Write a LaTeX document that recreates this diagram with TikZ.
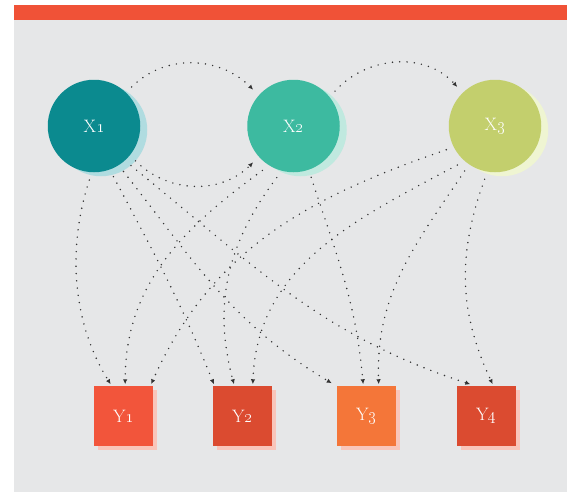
\documentclass[tikz,border=0pt]{standalone}
\usetikzlibrary{arrows.meta,shadows,calc}
\definecolor{barc}{HTML}{F05237}
\definecolor{bgc}{HTML}{E6E7E8}
\definecolor{xonec}{HTML}{0B8A8F}
\definecolor{xones}{HTML}{B0DCE0}
\definecolor{xtwoc}{HTML}{3DBAA0}
\definecolor{xtwos}{HTML}{C0E9DF}
\definecolor{xthreec}{HTML}{C3CF6D}
\definecolor{xthrees}{HTML}{EFF5D2}
\definecolor{yonec}{HTML}{F2553B}
\definecolor{ytwoc}{HTML}{DB4B30}
\definecolor{ythreec}{HTML}{F47639}
\definecolor{yfourc}{HTML}{DB4B30}
\definecolor{ys}{HTML}{F9C5BA}
\definecolor{edgec}{HTML}{333333}
\begin{document}
\begin{tikzpicture}[x=1pt,y=1pt,
  xnode/.style={circle,minimum size=92.5pt,inner sep=0pt,outer sep=8pt,text=white,
    font=\fontsize{18}{20}\selectfont,
    drop shadow={shadow xshift=7pt,shadow yshift=-4pt,fill=#1,opacity=1}},
  ynode/.style={rectangle,minimum size=59.5pt,inner sep=0pt,outer sep=2pt,text=white,
    font=\fontsize{18}{20}\selectfont,
    drop shadow={shadow xshift=4pt,shadow yshift=-4pt,fill=ys,opacity=1}},
  edge/.style={draw=edgec,line width=1.6pt,line cap=round,dash pattern=on 0pt off 7.3pt,
    -{Latex[length=5pt,width=4.5pt]}}]
\useasboundingbox (0,0) rectangle (576,-493);
\fill[bgc] (14,-20) rectangle (567,-492);
\fill[barc] (14,-5) rectangle (567,-20);
\node[xnode=xones,fill=xonec] (X1) at (94,-126) {X\oldstylenums{1}};
\node[xnode=xtwos,fill=xtwoc] (X2) at (293.5,-126) {X\oldstylenums{2}};
\node[xnode=xthrees,fill=xthreec] (X3) at (495,-126) {X\oldstylenums{3}};
\node[ynode,fill=yonec] (Y1) at (123.5,-416) {Y\oldstylenums{1}};
\node[ynode,fill=ytwoc] (Y2) at (242.5,-416) {Y\oldstylenums{2}};
\node[ynode,fill=ythreec] (Y3) at (366.5,-416) {Y\oldstylenums{3}};
\node[ynode,fill=yfourc] (Y4) at (486.5,-416) {Y\oldstylenums{4}};
% X to X
\draw[edge] (X1.46) to[out=45,in=135] (X2.138);
\draw[edge] (X2.40) to[out=48,in=132] (X3.134);
\draw[edge] (X1.-40) to[out=-45,in=-135] (X2.222);
% X1 to Y
\draw[edge] (X1.265) to[out=252,in=122,looseness=0.9] (Y1.112);
\draw[edge] (X1.291) to[out=-62,in=112] (Y2.132);
\draw[edge] (X1.303) to[out=-52,in=149] ($(Y3.north west)+(-3,1)$);
\draw[edge] (X1.-47) to[out=-39,in=162] (Y4.117);
% X2 to Y
\draw[edge] (X2.235) to[out=216,in=90] (Y1.87);
\draw[edge] (X2.252) to[out=233,in=105] (Y2.105);
\draw[edge] (X2.-71) to[out=-72,in=95] (Y3.96);
% X3 to Y
\draw[edge] (X3.206) to[out=199,in=66] (Y1.49);
\draw[edge] (X3.226) to[out=208,in=88] (Y2.72);
\draw[edge] (X3.236) to[out=236,in=92] (Y3.69);
\draw[edge] (X3.259) to[out=250,in=115] (Y4.79);
\end{tikzpicture}
\end{document}
